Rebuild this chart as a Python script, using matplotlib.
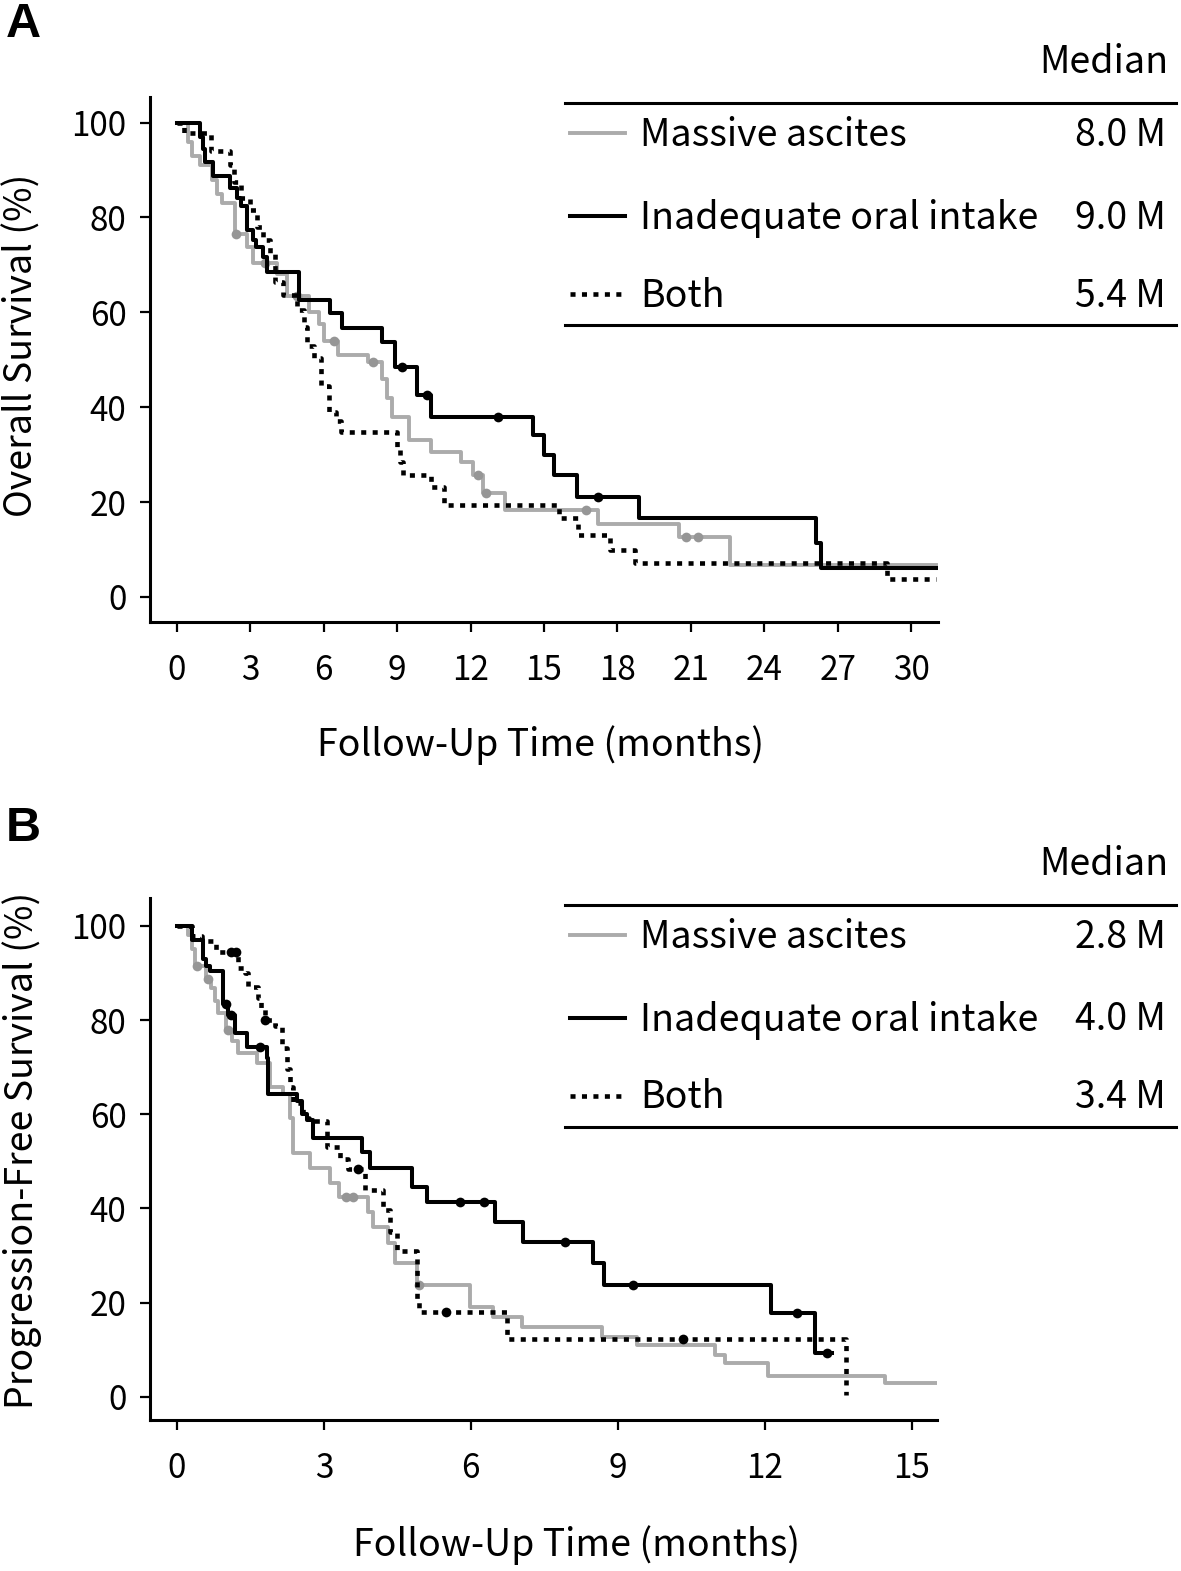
import numpy as np
import matplotlib
matplotlib.use('Agg')
import matplotlib.pyplot as plt

plt.rcParams['font.family'] = ['Noto Sans CJK JP', 'DejaVu Sans']

###############################################################################
# data (time in months, survival in %)
###############################################################################

groups     = ['Massive ascites', 'Inadequate oral intake', 'Both']
median_os  = ['8.0 M', '9.0 M', '5.4 M']
median_pfs = ['2.8 M', '4.0 M', '3.4 M']

# --- A: overall survival ---
os_asc_t = [0, 0.45, 0.6, 0.94, 1.43, 1.63, 1.84, 2.37, 2.86, 3.1, 4.1, 4.5, 5.4, 5.8, 6.0,
            6.6, 7.8, 8.4, 8.6, 8.8, 9.5, 10.4, 11.6, 12.1, 12.5, 13.4, 17.2, 20.5, 22.6]
os_asc_s = [100, 96, 93, 91, 88, 85, 83, 76.6, 73.7, 70.3, 68, 63.5, 60, 57.5, 54,
            51, 49.5, 46, 42, 38, 33, 30.5, 28.4, 25.7, 21.9, 18.3, 15.4, 12.6, 6.7]
os_asc_end = 31.0
os_asc_cens = [2.4, 3.6, 4.9, 6.4, 8.0, 12.3, 12.65, 16.7, 20.8, 21.3]

os_oral_t = [0, 0.94, 1.05, 1.15, 1.47, 2.17, 2.45, 2.6, 2.86, 3.1, 3.25, 3.5, 3.68, 5.0,
             6.25, 6.75, 8.4, 8.9, 9.8, 10.4, 14.55, 15.0, 15.4, 16.35, 18.9, 26.1, 26.3]
os_oral_s = [100, 97, 94.5, 91.6, 88.8, 86.3, 84.2, 82.5, 77.3, 75.2, 73.7, 71.6, 68.6, 62.5,
             59.8, 56.6, 53.7, 48.4, 42.5, 37.9, 34.1, 29.9, 25.7, 21.1, 16.6, 11.4, 6.0]
os_oral_end = 31.0
os_oral_cens = [9.2, 10.2, 13.1, 17.2]

os_both_t = [0, 0.3, 1.4, 2.17, 2.35, 2.6, 2.98, 3.27, 3.5, 3.8, 4.0, 4.35, 4.9, 5.2, 5.3,
             5.6, 5.9, 6.2, 6.5, 6.7, 9.0, 9.1, 9.25, 10.4, 10.9, 15.6, 16.4, 17.7, 18.7, 29.0]
os_both_s = [100, 97.9, 94.1, 91, 87.4, 84.2, 81.5, 78, 75.2, 72.4, 66.3, 63.6, 60.4, 56.8, 53,
             50.3, 44.5, 39, 37, 34.7, 31.6, 28.4, 25.7, 23.2, 19.4, 16.6, 13, 9.9, 7.2, 3.8]
os_both_end = 31.0
os_both_cens = []

# --- B: progression-free survival ---
pfs_asc_t = [0, 0.23, 0.3, 0.36, 0.6, 0.7, 0.78, 0.84, 1.0, 1.12, 1.25, 1.63, 1.9, 2.17, 2.3,
             2.37, 2.71, 3.12, 3.3, 3.9, 4.0, 4.3, 4.45, 4.9, 5.98, 6.45, 7.04, 8.67, 9.4,
             10.98, 11.2, 12.06, 14.45]
pfs_asc_s = [100, 98, 95, 91.5, 88.8, 86.9, 84.1, 81.4, 77.8, 75.6, 72.9, 70.8, 65.7, 64.4, 59.3,
             51.7, 48.5, 45.3, 42.4, 39.2, 36, 32.6, 28.4, 23.7, 19.1, 16.9, 14.8, 12.7, 11,
             8.9, 7.2, 4.4, 3.0]
pfs_asc_end = 15.5
pfs_asc_cens = [0.4, 0.63, 1.04, 3.45, 3.6, 4.95]

pfs_oral_t = [0, 0.3, 0.53, 0.6, 0.67, 0.94, 1.04, 1.18, 1.43, 1.84, 1.86, 2.45, 2.55, 2.65,
              2.78, 3.78, 3.94, 4.8, 5.1, 6.49, 7.06, 8.49, 8.73, 12.14, 13.02]
pfs_oral_s = [100, 97, 93, 91.5, 90.5, 83.5, 81, 77.3, 74.2, 72, 64.4, 62.9, 60, 58.7,
              54.9, 51.9, 48.5, 44.5, 41.3, 37.1, 32.8, 28.4, 23.7, 17.8, 9.3]
pfs_oral_end = 13.37
pfs_oral_cens = [1.0, 1.1, 1.7, 5.78, 6.28, 7.92, 9.31, 12.67, 13.27]

pfs_both_t = [0, 0.3, 0.51, 0.8, 1.25, 1.4, 1.45, 1.65, 1.72, 1.8, 2.0, 2.14, 2.24, 2.3, 2.37,
              2.57, 2.7, 3.06, 3.33, 3.5, 3.84, 4.2, 4.35, 4.5, 4.9, 4.95, 6.73, 13.67]
pfs_both_s = [100, 97.9, 96.8, 94.5, 91.1, 90, 87, 84.7, 82.6, 79.9, 78.8, 74, 69.5, 65.7, 62.3,
              59.3, 58.5, 53, 50.5, 48.3, 44, 39.6, 35, 31, 20.6, 18, 12.3, 0.4]
pfs_both_end = 13.67
pfs_both_cens = [1.1, 1.2, 1.8, 3.7, 5.5, 10.33]

###############################################################################
# styles
###############################################################################

GRAY = '#ababab'
GRAY_MK = '#969696'
styles = [dict(color=GRAY, lw=2.8, ls='-'),
          dict(color='black', lw=2.9, ls='-'),
          dict(color='black', lw=3.3, ls=(0, (1.1, 1.4)), dash_capstyle='butt')]
mk_colors = [GRAY_MK, 'black', 'black']

W, H = 1181, 1571
fig = plt.figure(figsize=(W/100, H/100), dpi=100)

axA = fig.add_axes([150/W, 1-622/H, 788/W, 525/H])
axB = fig.add_axes([150/W, 1-1420/H, 787/W, 522/H])


def km(ax, t, s, tend, cens, i):
    t = np.asarray(t, float)
    s = np.asarray(s, float)
    ax.step(np.append(t, tend), np.append(s, s[-1]), where='post', **styles[i])
    if len(cens):
        c = np.asarray(cens, float)
        idx = np.searchsorted(t, c, side='right') - 1
        ax.plot(c, s[idx], ls='none', marker='o', ms=7, color=mk_colors[i],
                markeredgewidth=0)


km(axA, os_asc_t, os_asc_s, os_asc_end, os_asc_cens, 0)
km(axA, os_oral_t, os_oral_s, os_oral_end, os_oral_cens, 1)
km(axA, os_both_t, os_both_s, os_both_end, os_both_cens, 2)

km(axB, pfs_asc_t, pfs_asc_s, pfs_asc_end, pfs_asc_cens, 0)
km(axB, pfs_oral_t, pfs_oral_s, pfs_oral_end, pfs_oral_cens, 1)
km(axB, pfs_both_t, pfs_both_s, pfs_both_end, pfs_both_cens, 2)


def style(ax, xlim, xticks, ylim):
    ax.set_xlim(*xlim)
    ax.set_ylim(*ylim)
    ax.set_xticks(xticks)
    ax.set_yticks([0, 20, 40, 60, 80, 100])
    for sp in ['top', 'right']:
        ax.spines[sp].set_visible(False)
    for sp in ['left', 'bottom']:
        ax.spines[sp].set_linewidth(2.2)
    ax.tick_params(axis='both', width=1.6, length=7, labelsize=24)
    ax.tick_params(axis='y', pad=10)
    ax.tick_params(axis='x', pad=15)


style(axA, (-1.1, 31.1), np.arange(0, 31, 3), (-5.3, 105.4))
style(axB, (-0.55, 15.52), np.arange(0, 16, 3), (-4.9, 105.9))

###############################################################################
# overlay for labels and the median tables
###############################################################################

ov = fig.add_axes([0, 0, 1, 1])
ov.set_xlim(0, W)
ov.set_ylim(H, 0)
ov.axis('off')

ov.text(23, 24, 'A', fontsize=35, fontweight='bold', family='Liberation Sans',
        ha='center', va='center')
ov.text(23, 828, 'B', fontsize=35, fontweight='bold', family='Liberation Sans',
        ha='center', va='center')

FS = 27
ov.text(22, 345, 'Overall Survival (%)', rotation=90, fontsize=FS, ha='center', va='center')
ov.text(541, 745, 'Follow-Up Time (months)', fontsize=FS, ha='center', va='center')
ov.text(22, 1150, 'Progression-Free Survival (%)', rotation=90, fontsize=FS,
        ha='center', va='center')
ov.text(577, 1545, 'Follow-Up Time (months)', fontsize=FS, ha='center', va='center')


def table(y0, medians):
    ov.text(1168, y0 + 2, 'Median', fontsize=FS, ha='right', va='center')
    ov.plot([565, 1176], [y0 + 43, y0 + 43], color='black', lw=2.2)
    rows = [y0 + 73, y0 + 156, y0 + 234]
    for i, (g, m) in enumerate(zip(groups, medians)):
        st = dict(styles[i])
        ov.plot([570, 625], [rows[i], rows[i]], **st)
        ov.text(640, rows[i] + 2, g, fontsize=FS, ha='left', va='center')
        ov.text(1166, rows[i] + 2, m, fontsize=FS, ha='right', va='center')
    ov.plot([565, 1176], [y0 + 265, y0 + 265], color='black', lw=2.2)


table(60, median_os)
table(862, median_pfs)

fig.savefig('out.png', dpi=100)
